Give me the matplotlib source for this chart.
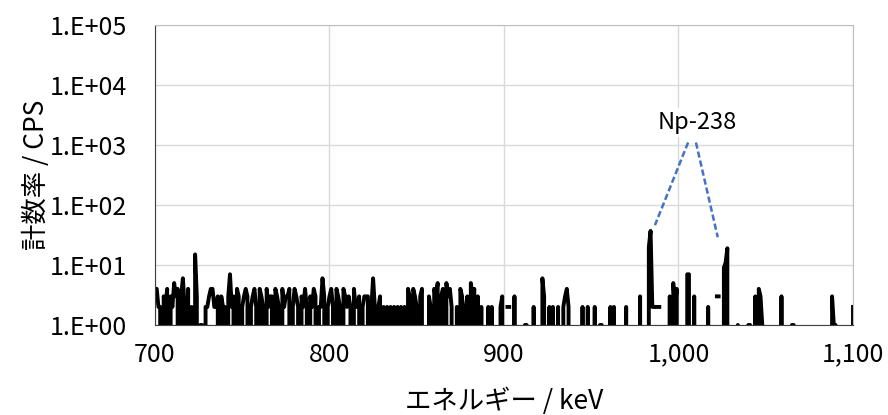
import numpy as np
import matplotlib.pyplot as plt
from matplotlib.ticker import FuncFormatter, FixedLocator

plt.rcParams['font.family'] = ['Noto Sans CJK JP', 'DejaVu Sans']

nan = np.nan

# energy channels 700..1100 keV (1 keV step)
energy = np.arange(700, 1101)

# count rate (cps)
cps_700 = [4, 4, 2, 2, 0, 3, 2, 4, 0, 3,
           2, 5, 3, 4, 0, 3, 6, 2, 0, 4,
           0, 2, 0, 15, 3, 0, 1, 1, 0, 2,
           2, 3, 4, 4, 2, 2, 3, 0, 3, 2,
           2, 0, 3, 7, 2, 3, 0, 4, 3, 0]
cps_750 = [2, 3, 4, 3, 0, 2, 3, 4, 2, 0,
           4, 3, 2, 0, 4, 2, 3, 3, 0, 4,
           3, 2, 0, 4, 2, 3, 3, 4, 0, 2,
           4, 3, 2, 0, 3, 2, 4, 2, 0, 3,
           2, 4, 3, 0, 2, 2, 6, 3, 0, 2]
cps_800 = [3, 4, 2, 0, 4, 3, 2, 0, 4, 3,
           2, 3, 2, 0, 4, 2, 2, 3, 0, 2,
           3, 3, 3, 0, 2, 6, 2, 0, 2, 3,
           0, 2, 0, 2, 0, 2, 0, 2, 0, 2,
           0, 2, 0, 2, 0, 4, 3, 0, 4, 3]
cps_850 = [2, 0, 3, 4, 0, 0, 0, 3, 2, 0,
           4, 3, 5, 0, 3, 4, 0, 5, 3, 4,
           2, 0, 0, 2, 0, 4, 3, 0, 2, 3,
           0, 5, 3, 4, 0, 3, 0, 2, 0, 0,
           0, 2, 0, 2, 0, 0, 0, 0, 2, 3]
cps_900 = [0, nan, 2, 2, nan, 0, 3, 0, 0, 0,
           0, 0, 1, 1, 0, 0, 0, 2, 0, 0,
           0, 0, 6, 3, 0, 0, 2, 0, 2, 0,
           0, 2, 0, 0, 2, 3, 4, 2, 0, 0,
           0, 0, 0, 0, 0, 2, 0, 0, 2, 0]
cps_950 = [0, 0, 2, 0, 0, 1, 1, 0, 0, 0,
           0, 2, 0, 2, 0, 0, 0, 0, 0, 0,
           2, 0, 0, 0, 0, 0, 0, 0, 3, 0,
           0, 0, 0, 20, 37, 2, 2, nan, 2, 2,
           nan, 0, 0, 0, 0, 3, 0, 5, 2, 4]
cps_1000 = [0, 0, 0, 0, 0, 7, 7, 0, 0, 3,
            0, 0, 0, 0, 0, 0, 0, 2, 0, 0,
            0, nan, 3, 3, nan, 0, 9, 11, 19, 0,
            0, 0, 0, 0, 1, 0, 0, 0, 0, 0,
            1, 1, 0, 0, 3, 0, 4, 3, 1, 0]
cps_1050 = [0, 0, 0, 0, 0, 0, 0, 0, 0, 3,
            0, 0, 0, 0, 0, 1, 1, 0, 0, 0,
            0, 0, 0, 0, 0, 0, 0, 0, 0, 0,
            0, 0, 0, 0, 0, 0, 0, 0, 3, 1,
            1, 0, 0, 0, 0, 0, 0, 0, 0, 0,
            2]

cps = np.array(cps_700 + cps_750 + cps_800 + cps_850 + cps_900
               + cps_950 + cps_1000 + cps_1050, dtype=float)

# annotation
label_text = 'Np-238'
label_pos = (1010.5, 2400)
arrow_starts = [(1005.5, 1100), (1010, 1100)]
arrow_ends = [(986.5, 46), (1022.5, 29)]

fig = plt.figure(figsize=(8.88, 4.15), dpi=100)
ax = fig.add_axes([0.1745, 0.2169, 0.7861, 0.7229])

ax.plot(energy, cps, color='black', lw=2.8)

for (x0, y0), (x1, y1) in zip(arrow_starts, arrow_ends):
    ax.plot([x0, x1], [y0, y1], color='#4472C4', lw=1.8, ls=(0, (2.5, 1.2)))

ax.text(*label_pos, label_text, ha='center', va='center', fontsize=17,
        bbox=dict(facecolor='white', edgecolor='none', pad=2))

ax.set_yscale('log')
ax.set_xlim(700, 1100)
ax.set_ylim(1, 1e5)
ax.xaxis.set_major_locator(FixedLocator([700, 800, 900, 1000, 1100]))
ax.yaxis.set_major_locator(FixedLocator([1, 10, 100, 1e3, 1e4, 1e5]))
ax.yaxis.set_minor_locator(FixedLocator([]))
ax.xaxis.set_major_formatter(FuncFormatter(lambda v, p: f'{int(v):,}'))
ax.yaxis.set_major_formatter(FuncFormatter(lambda v, p: f'1.E+{int(round(np.log10(v))):02d}'))

ax.grid(True, color='#d9d9d9', lw=1)
ax.set_axisbelow(True)
ax.tick_params(axis='y', length=0, labelsize=18, pad=20)
ax.tick_params(axis='x', length=0, labelsize=18, pad=12)
for s in ['top', 'right']:
    ax.spines[s].set_color('#bfbfbf')
ax.spines['left'].set_color('#404040')
ax.spines['bottom'].set_color('#404040')

ax.set_xlabel('エネルギー / keV', fontsize=19, labelpad=14)
ax.set_ylabel('計数率 / CPS', fontsize=19, labelpad=0)

fig.savefig('out.png', dpi=100)
